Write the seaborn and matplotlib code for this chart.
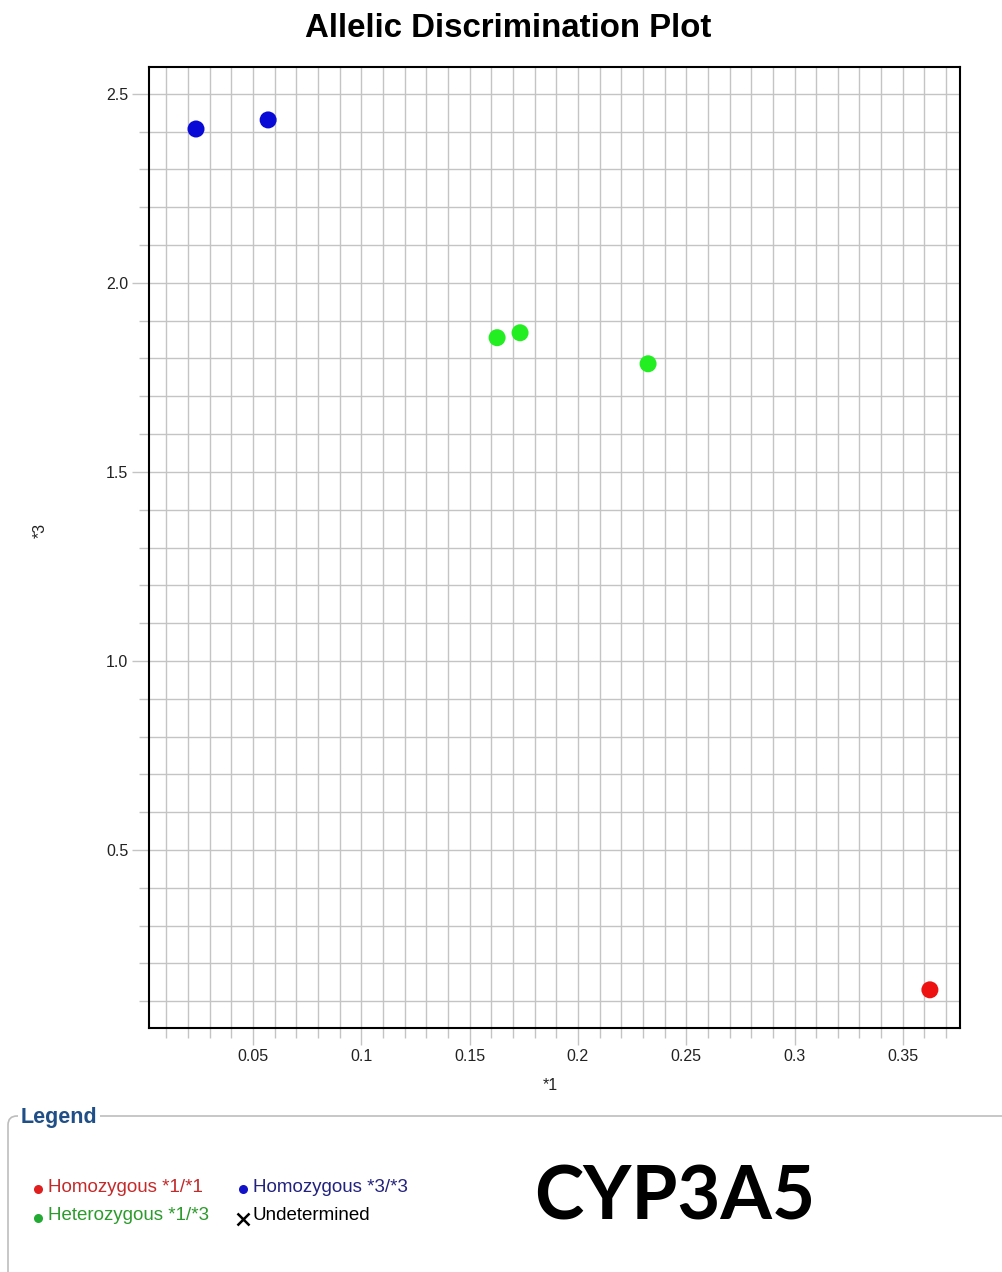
import matplotlib
matplotlib.use("Agg")
import matplotlib.pyplot as plt
import seaborn as sns
import pandas as pd
from matplotlib.ticker import MultipleLocator, FuncFormatter
from matplotlib.patches import FancyBboxPatch

# Allele signal per sample: *1 reporter (x) and *3 reporter (y), with the genotype call
allele1_signal = [0.0237, 0.0570, 0.1627, 0.1733, 0.2324, 0.3625]
allele3_signal = [2.407, 2.431, 1.855, 1.868, 1.786, 0.130]
genotype_call = [
    "Homozygous *3/*3",
    "Homozygous *3/*3",
    "Heterozygous *1/*3",
    "Heterozygous *1/*3",
    "Heterozygous *1/*3",
    "Homozygous *1/*1",
]

call_order = ["Homozygous *1/*1", "Homozygous *3/*3", "Heterozygous *1/*3"]
point_colors = {
    "Homozygous *1/*1": "#ee1111",
    "Homozygous *3/*3": "#0a0ad6",
    "Heterozygous *1/*3": "#22ee22",
}
legend_dot_colors = {
    "Homozygous *1/*1": "#e01e1e",
    "Homozygous *3/*3": "#1212c8",
    "Heterozygous *1/*3": "#22aa33",
}
legend_text_colors = {
    "Homozygous *1/*1": "#c42a2a",
    "Homozygous *3/*3": "#23237e",
    "Heterozygous *1/*3": "#2c9a2c",
}

W, H = 1003, 1272
df = pd.DataFrame({"*1": allele1_signal, "*3": allele3_signal, "call": genotype_call})

sns.set_style("white")
plt.rcParams["font.family"] = ["Liberation Sans", "DejaVu Sans"]

fig = plt.figure(figsize=(W / 100, H / 100), dpi=100)
fig.patch.set_facecolor("white")

# Overlay in pixel units (origin top-left) for the legend panel and labels
over = fig.add_axes([0, 0, 1, 1], zorder=0)
over.set_xlim(0, W)
over.set_ylim(H, 0)
over.axis("off")

left, right, top, bottom = 149, 960, 67, 1028
ax = fig.add_axes([left / W, 1 - bottom / H, (right - left) / W, (bottom - top) / H], zorder=2)

sns.scatterplot(
    data=df, x="*1", y="*3", hue="call", hue_order=call_order,
    palette=point_colors, s=150, edgecolor="none", legend=False, ax=ax, zorder=3,
)

ax.set_xlim(0.002, 0.3764)
ax.set_ylim(0.029, 2.571)

ax.xaxis.set_major_locator(MultipleLocator(0.05))
ax.xaxis.set_minor_locator(MultipleLocator(0.01))
ax.yaxis.set_major_locator(MultipleLocator(0.5))
ax.yaxis.set_minor_locator(MultipleLocator(0.1))
ax.xaxis.set_major_formatter(FuncFormatter(lambda v, p: f"{v:g}"))
ax.yaxis.set_major_formatter(FuncFormatter(lambda v, p: f"{v:.1f}"))

ax.grid(which="both", color="#c4c4c4", linewidth=1.0, zorder=0)
ax.set_axisbelow(True)
for s in ax.spines.values():
    s.set_color("black")
    s.set_linewidth(1.5)
ax.tick_params(which="major", direction="out", length=12, width=1, color="#c4c4c4",
               labelsize=11.5, labelcolor="#222222", pad=3,
               bottom=True, left=True)
ax.tick_params(which="minor", direction="out", length=7, width=1, color="#c4c4c4",
               bottom=True, left=True)

ax.set_xlabel("")
ax.set_ylabel("")

# Title and axis labels
over.text(508, 37, "Allelic Discrimination Plot", ha="center", va="baseline",
          fontsize=23.8, fontweight="bold", color="black")
over.text(550, 1086, "*1", ha="center", va="center", fontsize=11.5, color="#222222")
over.text(40, 530, "*3", ha="center", va="center", fontsize=11.5, color="#222222", rotation=90)

# Legend panel
frame = FancyBboxPatch((8, 1116), 1030, 220, boxstyle="round,pad=0,rounding_size=9",
                       ec="#bdbdbd", fc="none", lw=1.2)
over.add_patch(frame)
over.text(21, 1117, "Legend", ha="left", va="center", fontsize=15.5, fontweight="bold",
          color="#1f4f86", bbox=dict(facecolor="white", edgecolor="none", pad=2))

legend_slots = {
    "Homozygous *1/*1": (38, 1189),
    "Homozygous *3/*3": (243, 1189),
    "Heterozygous *1/*3": (38, 1218),
}
for name in call_order:
    x0, y0 = legend_slots[name]
    over.plot([x0], [y0], marker="o", markersize=6.5, color=legend_dot_colors[name],
              markeredgewidth=0)
    over.text(x0 + 10, y0 - 2, name, ha="left", va="center", fontsize=13.5,
              color=legend_text_colors[name])
over.plot([243], [1219], marker="x", markersize=9, color="black", markeredgewidth=1.8)
over.text(253, 1216, "Undetermined", ha="left", va="center", fontsize=13.5, color="black")

over.text(675, 1220, "CYP3A5", ha="center", va="baseline", fontsize=53.5, fontweight="bold",
          family=["Lato", "DejaVu Sans"], color="black")

fig.savefig("out.png", dpi=100, facecolor="white")
